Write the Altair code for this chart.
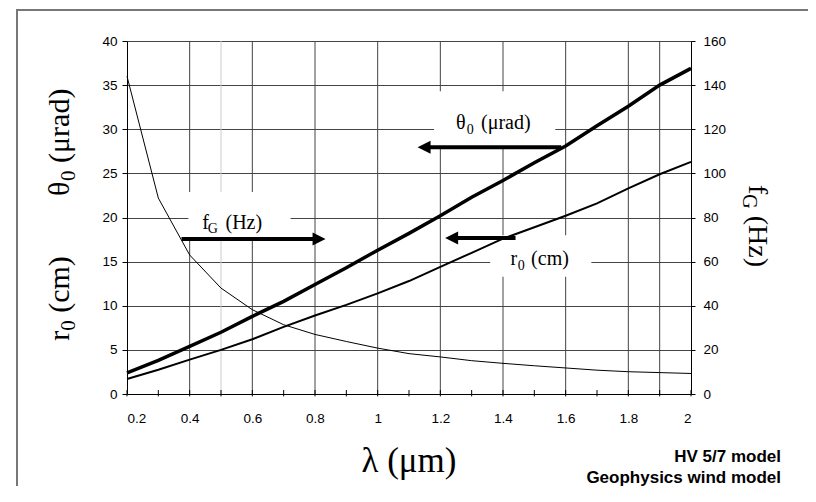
import altair as alt
import pandas as pd

# ---------------- data ----------------
lam = [0.2, 0.3, 0.4, 0.5, 0.6, 0.7, 0.8, 0.9, 1.0, 1.1,
       1.2, 1.3, 1.4, 1.5, 1.6, 1.7, 1.8, 1.9, 2.0]
theta0_urad = [2.4, 3.8, 5.4, 7.0, 8.8, 10.5, 12.4, 14.3, 16.3, 18.2,
               20.2, 22.3, 24.2, 26.2, 28.1, 30.4, 32.6, 35.0, 36.9]
r0_cm = [1.7, 2.75, 3.9, 5.0, 6.2, 7.6, 8.9, 10.1, 11.4, 12.8,
         14.4, 16.0, 17.6, 18.9, 20.2, 21.6, 23.3, 24.9, 26.3]
fG_hz = [144, 88.8, 63, 48, 38.2, 31.4, 27.0, 23.8, 20.8, 18.3,
         16.8, 15.1, 13.9, 12.8, 11.8, 10.8, 10.1, 9.7, 9.3]

x_labels = [0.2, 0.4, 0.6, 0.8, 1.0, 1.2, 1.4, 1.6, 1.8, 2.0]
x_minor = [0.2, 0.3, 0.4, 0.5, 0.6, 0.7, 0.8, 0.9, 1.0, 1.1,
           1.2, 1.3, 1.4, 1.5, 1.6, 1.7, 1.8, 1.9, 2.0]
left_ticks = [0, 5, 10, 15, 20, 25, 30, 35, 40]
right_ticks = [0, 20, 40, 60, 80, 100, 120, 140, 160]
v_grid = [0.4, 0.5, 0.6, 0.8, 1.0, 1.2, 1.4, 1.6, 1.8, 1.9]

df = pd.DataFrame({"lam": lam, "theta": theta0_urad, "r0": r0_cm, "fG": fG_hz})

SERIF = "Liberation Serif"
SANS = "Liberation Sans"

XS = alt.Scale(domain=[0.2, 2.0], nice=False, zero=False)
YL = alt.Scale(domain=[0, 40], nice=False, zero=False)
YR = alt.Scale(domain=[0, 160], nice=False, zero=False)

XAX = alt.Axis(
    values=x_labels, labelExpr="format(datum.value, '.1~f')",
    ticks=False, tickSize=0, labelPadding=17, grid=False, title=None,
    domainColor="black", domainWidth=1, labelFont=SANS, labelFontSize=13.5,
    labelColor="black")
YAX = alt.Axis(
    values=left_ticks, grid=True, gridColor="#444444", gridWidth=1,
    tickSize=5, tickColor="black", domainColor="black", labelPadding=5,
    title=None, labelFont=SANS, labelFontSize=13.5, labelColor="black")
RAX = alt.Axis(
    orient="right", values=right_ticks, grid=False, tickSize=4,
    tickColor="black", domainColor="black", labelPadding=8, title=None,
    labelFont=SANS, labelFontSize=13.5, labelColor="black")


def X(f):
    return alt.X(f, type="quantitative", scale=XS, axis=XAX)


def Y(f):
    return alt.Y(f, type="quantitative", scale=YL, axis=YAX)


def one(**kw):
    return pd.DataFrame({k: [v] for k, v in kw.items()})


# ---------------- grid / frame ----------------
frame_top = alt.Chart(one(a=0)).mark_rect(color="#777777").encode(
    x=alt.value(-111), x2=alt.value(681), y=alt.value(-32), y2=alt.value(-30))
frame_left = alt.Chart(one(a=0)).mark_rect(color="#777777").encode(
    x=alt.value(-111), x2=alt.value(-109), y=alt.value(-32), y2=alt.value(445))

vgrid = alt.Chart(pd.DataFrame({"x": v_grid})).mark_rule(strokeWidth=1).encode(
    x=X("x"),
    color=alt.condition("datum.x == 0.5", alt.value("#cccccc"), alt.value("#444444")),
)

xticks = alt.Chart(pd.DataFrame({"x": x_minor, "y": [-0.27] * len(x_minor),
                                 "y2": [0.45] * len(x_minor)})).mark_rule(
    color="black", strokeWidth=1).encode(x=X("x"), y=Y("y"), y2="y2")

boxes = alt.Chart(pd.DataFrame({
    "x": [0.396, 1.18, 1.359], "x2": [0.722, 1.567, 1.682],
    "y": [17.7, 27.9, 13.3], "y2": [22.9, 34.3, 18.0]})).mark_rect(
    color="white", opacity=1).encode(x=X("x"), x2="x2", y=Y("y"), y2="y2")

# ---------------- curves ----------------
theta_line = alt.Chart(df).mark_line(color="black", strokeWidth=3.5).encode(
    x=X("lam"), y=Y("theta"))

r0_line = alt.Chart(df).mark_line(color="black", strokeWidth=2).encode(
    x=X("lam"), y=Y("r0"))

fG_line = alt.Chart(df).mark_line(color="black", strokeWidth=1).encode(
    x=X("lam"),
    y=alt.Y("fG:Q", scale=YR, axis=RAX),
)

# ---------------- arrows ----------------
shafts = alt.Chart(pd.DataFrame({
    "x": [0.374, 1.148, 1.236], "x2": [0.813, 1.586, 1.44],
    "y": [17.55, 27.95, 17.67]})).mark_rule(color="black", strokeWidth=4).encode(
    x=X("x"), x2="x2", y=Y("y"))

head_r = alt.Chart(one(x=0.813, y=17.55)).mark_point(
    shape="M-1,-1L1,0L-1,1Z", filled=True, size=169, color="black", opacity=1,
    strokeWidth=0).encode(x=X("x"), y=Y("y"))
head_l = alt.Chart(pd.DataFrame({"x": [1.148, 1.236], "y": [27.95, 17.67]})).mark_point(
    shape="M1,-1L-1,0L1,1Z", filled=True, size=169, color="black", opacity=1,
    strokeWidth=0).encode(x=X("x"), y=Y("y"))


# ---------------- labels ----------------
def dtext(x, y, txt, size, dx=0, dy=0):
    return alt.Chart(one(x=x, y=y)).mark_text(
        text=txt, font=SERIF, fontSize=size, align="left", baseline="alphabetic",
        dx=dx, dy=dy, color="black").encode(x=X("x"), y=Y("y"))


def ptext(px, py, txt, size, dx=0, dy=0, angle=0, align="left", font=SERIF,
          weight="normal"):
    kw = dict(text=txt, font=font, fontSize=size, align=align,
              baseline="alphabetic", dx=dx, dy=dy, color="black",
              fontWeight=weight)
    if angle:
        kw["angle"] = angle
    return alt.Chart(one(a=0)).mark_text(**kw).encode(
        x=alt.value(px), y=alt.value(py))


labels = [
    dtext(0.44, 18.69, "f", 20),
    dtext(0.44, 18.69, "G", 14, dx=5.6, dy=4),
    dtext(0.44, 18.69, "(Hz)", 20, dx=23.3),
    dtext(1.25, 30.0, "θ", 20),
    dtext(1.25, 30.0, "0", 14, dx=10.7, dy=5),
    dtext(1.25, 30.0, "(μrad)", 20, dx=25),
    dtext(1.4236, 14.6, "r", 20),
    dtext(1.4236, 14.6, "0", 14, dx=7.4, dy=5),
    dtext(1.4236, 14.6, "(cm)", 20, dx=20.7),
]

titles = [
    ptext(-57.7, 155, "θ", 30, angle=270),
    ptext(-57.7, 155, "0", 21, dx=15, dy=6, angle=270),
    ptext(-57.7, 155, "(μrad)", 30, dx=33, angle=270),
    ptext(-57.7, 299.8, "r", 30, angle=270),
    ptext(-57.7, 299.8, "0", 21, dx=10, dy=6, angle=270),
    ptext(-57.7, 299.8, "(cm)", 30, dx=28, angle=270),
    ptext(622, 144, "f", 28, angle=90),
    ptext(622, 144, "G", 20, dx=9.3, dy=6, angle=90),
    ptext(622, 144, "(Hz)", 28, dx=30.7, angle=90),
    ptext(282, 430.7, "λ (μm)", 35, align="center"),
    ptext(654, 420.7, "HV 5/7 model", 17, align="right", font=SANS, weight="bold"),
    ptext(654, 441.7, "Geophysics wind model", 17, align="right", font=SANS,
          weight="bold"),
]

left = alt.layer(vgrid, boxes, xticks, theta_line, r0_line, shafts, head_r,
                 head_l, *labels, *titles, frame_top, frame_left)

chart = alt.layer(left, fG_line).resolve_scale(y="independent").properties(
    width=564, height=353,
    padding={"left": 119, "top": 33, "right": 117, "bottom": 92},
    autosize=alt.AutoSizeParams(type="none"),
    background="white",
).configure_view(stroke=None)

chart.save("out.html", embed_options={"renderer": "svg", "actions": False})
